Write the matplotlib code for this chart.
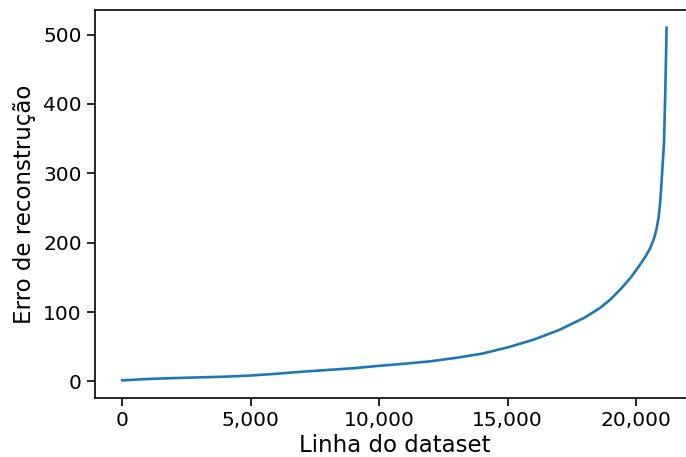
import matplotlib

matplotlib.use("Agg")
import matplotlib.pyplot as plt
from matplotlib.ticker import FuncFormatter

# sorted reconstruction error per dataset row
row_index = [0, 1000, 2000, 3000, 4000, 5000, 6000, 7000, 8000, 9000,
             10000, 11000, 12000, 13000, 14000, 15000, 16000, 17000, 18000,
             18600, 19000, 19400, 19800, 20150, 20400, 20550, 20700, 20800,
             20880, 20940, 20990, 21040, 21090, 21140, 21190]
recon_error = [1.5, 3.5, 4.8, 5.8, 6.8, 8.5, 11, 14, 16.5, 19,
               22.5, 25.5, 29, 34, 40, 49, 60, 74, 92,
               106, 118, 133, 150, 168, 182, 192, 206, 220,
               237, 258, 285, 315, 345, 420, 510]

fig = plt.figure(figsize=(6.86, 4.57), dpi=100)
ax = fig.add_axes([0.1385, 0.1291, 1.0114 - 0.1385, 0.978 - 0.1291])

ax.plot(row_index, recon_error, color="#1f77b4", linewidth=1.9)
ax.margins(x=0.05, y=0.05)

ax.xaxis.set_major_formatter(FuncFormatter(lambda v, _: f"{v:,.0f}"))
ax.set_xticks([0, 5000, 10000, 15000, 20000])
ax.set_yticks([0, 100, 200, 300, 400, 500])
ax.tick_params(labelsize=14.5, length=6, width=1.2)
for side in ("left", "bottom", "top"):
    ax.spines[side].set_linewidth(1.2)
ax.spines["right"].set_visible(False)

ax.set_xlabel("Linha do dataset", fontsize=16.5, labelpad=3)
ax.set_ylabel("Erro de reconstrução", fontsize=16.5, labelpad=5)

fig.savefig("out.png", dpi=100)
